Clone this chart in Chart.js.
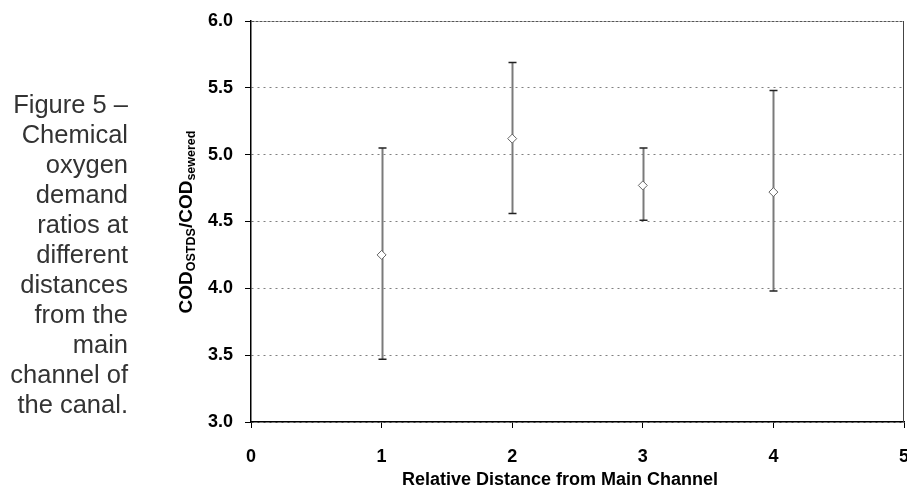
<!DOCTYPE html>
<html>
<head>
<meta charset="utf-8">
<script src="https://cdn.jsdelivr.net/npm/chart.js@4.4.0/dist/chart.umd.min.js"></script>
<style>
  html, body { margin: 0; padding: 0; background: #fff; overflow: hidden; }
  #wrap { position: relative; width: 907px; height: 498px; overflow: hidden; }
  #chart { position: absolute; left: 0; top: 0; }
  .caption {
    position: absolute; right: 779px; top: 89px; text-align: right;
    font: 25.5px/30px "Liberation Sans", Arial, sans-serif; color: #333; white-space: nowrap;
  }
  .ytitle {
    position: absolute; left: 36px; top: 212px; width: 300px; height: 20px;
    text-align: center; transform: rotate(-90deg); transform-origin: 150px 10px;
    font: bold 19px/20px "Liberation Sans", Arial, sans-serif; color: #000; white-space: nowrap;
  }
  .ytitle sub { font-size: 12.5px; vertical-align: -3px; line-height: 0; }
  .xtitle {
    position: absolute; left: 360px; width: 400px; top: 469px; text-align: center;
    font: bold 18px/20px "Liberation Sans", Arial, sans-serif; color: #000; white-space: nowrap;
  }
</style>
</head>
<body>
<div id="wrap">
  <canvas id="chart" width="912" height="498"></canvas>
  <div class="caption">Figure 5 –<br>Chemical<br>oxygen<br>demand<br>ratios at<br>different<br>distances<br>from the<br>main<br>channel of<br>the canal.</div>
  <div class="ytitle">COD<sub>OSTDS</sub>/COD<sub>sewered</sub></div>
  <div class="xtitle">Relative Distance from Main Channel</div>
</div>
<script>
// values
const distances = [1, 2, 3, 4];
const ratioMean = [4.25, 5.12, 4.77, 4.72];
const ratioUpper = [5.05, 5.69, 5.05, 5.48];
const ratioLower = [3.47, 4.56, 4.51, 3.98];

const xMin = 0, xMax = 5, xStep = 1;
const yMin = 3, yMax = 6, yStep = 0.5;

// vertical error bars with caps, drawn under the markers
const errorBars = {
  id: 'errorBars',
  beforeDatasetsDraw(chart) {
    const ctx = chart.ctx;
    const xs = chart.scales.x, ys = chart.scales.y;
    ctx.save();
    distances.forEach((d, i) => {
      const x = Math.round(xs.getPixelForValue(d)) + 0.5;
      const yTop = ys.getPixelForValue(ratioUpper[i]);
      const yBot = ys.getPixelForValue(ratioLower[i]);
      ctx.strokeStyle = '#7a7a7a';
      ctx.lineWidth = 2;
      ctx.beginPath();
      ctx.moveTo(x, yTop);
      ctx.lineTo(x, yBot);
      ctx.stroke();
      ctx.strokeStyle = '#222';
      ctx.lineWidth = 1.5;
      ctx.beginPath();
      ctx.moveTo(x - 4, yTop); ctx.lineTo(x + 4, yTop);
      ctx.moveTo(x - 4, yBot); ctx.lineTo(x + 4, yBot);
      ctx.stroke();
    });
    ctx.restore();
  }
};

// right edge of the plot frame
const frame = {
  id: 'frame',
  beforeDatasetsDraw(chart) {
    const { ctx, chartArea } = chart;
    ctx.save();
    ctx.strokeStyle = '#444';
    ctx.lineWidth = 1;
    ctx.beginPath();
    ctx.moveTo(chartArea.right - 0.5, chartArea.top);
    ctx.lineTo(chartArea.right - 0.5, chartArea.bottom);
    ctx.stroke();
    ctx.restore();
  }
};

const tickFont = { family: '"Liberation Sans", Arial, sans-serif', size: 18, weight: 'bold' };

new Chart(document.getElementById('chart'), {
  type: 'scatter',
  data: {
    datasets: [{
      data: distances.map((d, i) => ({ x: d, y: ratioMean[i] })),
      pointStyle: 'rectRot',
      pointRadius: 4.5,
      pointBackgroundColor: '#fff',
      pointBorderColor: '#666',
      pointBorderWidth: 1,
      showLine: false
    }]
  },
  options: {
    responsive: false,
    animation: false,
    devicePixelRatio: 1,
    layout: { padding: { left: 0, top: 21, right: 8, bottom: 0 } },
    plugins: { legend: { display: false }, tooltip: { enabled: false } },
    scales: {
      x: {
        type: 'linear', min: xMin, max: xMax,
        afterFit: s => { s.height = 76; s.paddingLeft = 0; s.paddingRight = 0; },
        ticks: { stepSize: xStep, color: '#000', font: tickFont, padding: 18, maxRotation: 0 },
        grid: { drawOnChartArea: false, drawTicks: true, tickLength: 6, tickColor: '#000', tickWidth: 1 },
        border: { color: '#000', width: 1.5 }
      },
      y: {
        type: 'linear', min: yMin, max: yMax,
        afterFit: s => { s.width = 251; s.paddingTop = 0; s.paddingBottom = 0; },
        ticks: { stepSize: yStep, color: '#000', font: tickFont, padding: 12, callback: v => v.toFixed(1) },
        grid: {
          color: c => (c.tick && c.tick.value === yMax ? '#555' : '#808080'),
          lineWidth: 1,
          tickLength: 6, tickColor: '#000', tickWidth: 1
        },
        border: {
          color: '#000', width: 1.5,
          dash: c => (c.tick && c.tick.value === yMax ? [3, 1] : [2, 4])
        }
      }
    }
  },
  plugins: [errorBars, frame]
});
</script>
</body>
</html>
